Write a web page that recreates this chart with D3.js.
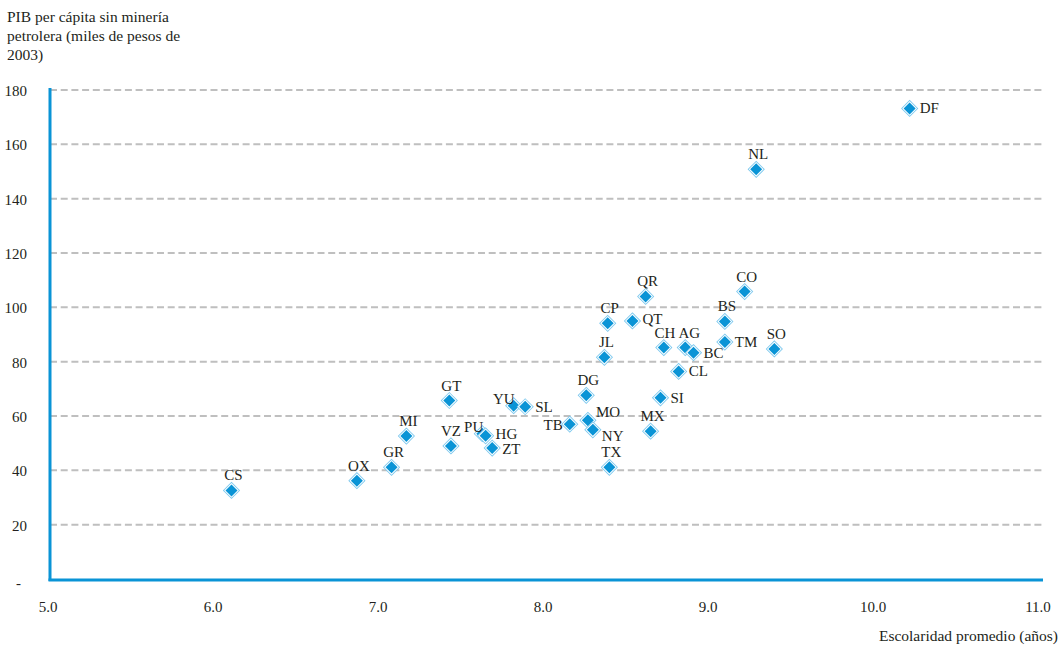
<!DOCTYPE html>
<html>
<head>
<meta charset="utf-8">
<script src="https://cdn.jsdelivr.net/npm/d3@7"></script>
<style>
  html, body { margin: 0; padding: 0; background: #fff; }
  svg text { font-family: "Liberation Serif", "DejaVu Serif", serif; fill: #231f20; }
</style>
</head>
<body>
<svg id="chart" width="1060" height="647"></svg>
<script>
// ---- data ----
const states    = ["DF","NL","CO","QR","CP","QT","BS","CH","AG","BC","TM","SO","JL","CL","DG","SI","GT","YU","SL","TB","MO","NY","MX","MI","PU","HG","VZ","ZT","GR","TX","OX","CS"];
const schooling = [10.21,9.28,9.21,8.61,8.38,8.53,9.09,8.72,8.85,8.90,9.09,9.39,8.36,8.81,8.25,8.70,7.42,7.81,7.88,8.15,8.26,8.29,8.64,7.16,7.62,7.64,7.43,7.68,7.07,8.39,6.86,6.10];
const gdp       = [173.2,150.8,105.8,104.0,94.1,95.0,94.8,85.2,85.2,83.3,87.2,84.7,81.6,76.4,67.6,66.7,65.7,63.8,63.4,57.0,58.4,54.9,54.4,52.6,53.5,52.7,49.0,48.2,41.1,41.1,36.2,32.6];
const labelPos  = ["right","top","top","top","top","righthi","top","topL","topR","right","right","top","top","right","top","right","top","topleft","right","left","rightup","rightdown","top","top","topleft","righthi","topC","rightlo","top","top","top","top"];
const yTicks = [0,20,40,60,80,100,120,140,160,180];
const yTickLabels = ["-","20","40","60","80","100","120","140","160","180"];
const xTicks = [5,6,7,8,9,10,11];
const xTickLabels = ["5.0","6.0","7.0","8.0","9.0","10.0","11.0"];
const yTitle = ["PIB per cápita sin minería","petrolera (miles de pesos de","2003)"];
const xTitle = "Escolaridad promedio (años)";

const svg = d3.select("#chart");
const blue = "#0A94D6";
const x = d3.scaleLinear().domain([5, 11]).range([50, 1040]);
const y = d3.scaleLinear().domain([0, 180]).range([579, 90]);

// gridlines
svg.append("g").selectAll("line").data(yTicks.filter(d => d > 0)).join("line")
  .attr("x1", x(5)).attr("x2", 1043)
  .attr("y1", d => y(d)).attr("y2", d => y(d))
  .attr("stroke", "#bfbfbf").attr("stroke-width", 2).attr("stroke-dasharray", "7,3.7");

// y tick labels
svg.append("g").selectAll("text").data(yTicks).join("text")
  .attr("x", (d, i) => i === 0 ? 21 : 27)
  .attr("y", d => y(d) + (d === 0 ? 9 : 6))
  .attr("text-anchor", "end")
  .attr("font-size", 15)
  .text((d, i) => yTickLabels[i]);

// x tick labels
svg.append("g").selectAll("text").data(xTicks).join("text")
  .attr("x", d => x(d) - 2)
  .attr("y", 612)
  .attr("text-anchor", "middle")
  .attr("font-size", 15)
  .text((d, i) => xTickLabels[i]);

// axes lines
svg.append("line").attr("x1", x(5)).attr("x2", x(5)).attr("y1", y(180) - 2).attr("y2", 581)
  .attr("stroke", blue).attr("stroke-width", 3);
svg.append("line").attr("x1", x(5) - 1.5).attr("x2", 1043).attr("y1", 580).attr("y2", 580)
  .attr("stroke", blue).attr("stroke-width", 3);

// titles
svg.append("g").selectAll("text").data(yTitle).join("text")
  .attr("x", 7).attr("y", (d, i) => 22 + i * 19)
  .attr("font-size", 15.5).text(d => d);
svg.append("text").attr("x", 1058).attr("y", 641).attr("text-anchor", "end")
  .attr("font-size", 15.5).text(xTitle);

// markers
const pts = states.map((s, i) => ({ s, xv: schooling[i], yv: gdp[i], pos: labelPos[i] }));
const mk = svg.append("g").selectAll("g").data(pts).join("g")
  .attr("transform", d => `translate(${x(d.xv)},${y(d.yv)})`);
const diamond = r => `M0,${-r}L${r},0L0,${r}L${-r},0Z`;
mk.append("path").attr("d", diamond(8.6)).attr("fill", "#7cc8ee");
mk.append("path").attr("d", diamond(7.4)).attr("fill", "#ffffff");
mk.append("path").attr("d", diamond(6.0)).attr("fill", blue);

// labels
const lab = svg.append("g").selectAll("text").data(pts).join("text")
  .attr("font-size", 15)
  .text(d => d.s);
lab.each(function(d) {
  const t = d3.select(this);
  const px = x(d.xv), py = y(d.yv);
  let tx = px, ty = py, anchor = "middle";
  switch (d.pos) {
    case "top": tx = px + 2; ty = py - 10; break;
    case "topC": tx = px; ty = py - 10; break;
    case "topL": tx = px + 1; ty = py - 10; break;
    case "topR": tx = px + 4; ty = py - 10; break;
    case "right": tx = px + 10; ty = py + 5; anchor = "start"; break;
    case "righthi": tx = px + 10; ty = py + 3; anchor = "start"; break;
    case "rightlo": tx = px + 10; ty = py + 6; anchor = "start"; break;
    case "rightup": tx = px + 8; ty = py - 3; anchor = "start"; break;
    case "rightdown": tx = px + 9; ty = py + 11; anchor = "start"; break;
    case "left": tx = px - 7; ty = py + 6; anchor = "end"; break;
    case "topleft": tx = px + 1; ty = py - 2; anchor = "end"; break;
  }
  t.attr("x", tx).attr("y", ty).attr("text-anchor", anchor);
});
</script>
</body>
</html>
